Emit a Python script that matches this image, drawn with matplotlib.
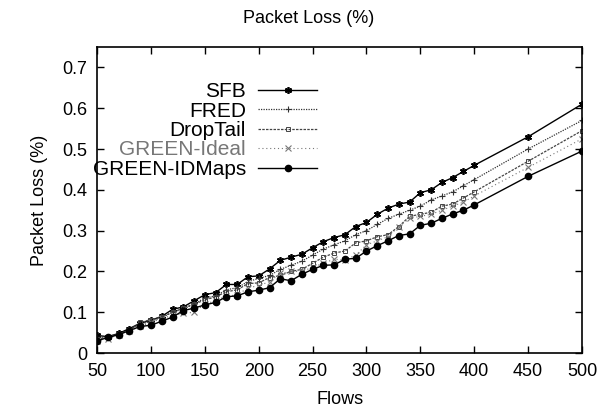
import matplotlib
matplotlib.use('Agg')
import matplotlib.pyplot as plt

plt.rcParams['font.family'] = ['Liberation Sans', 'DejaVu Sans']

flows = [50, 60, 70, 80, 90, 100, 110, 120, 130, 140, 150, 160, 170, 180, 190,
         200, 210, 220, 230, 240, 250, 260, 270, 280, 290, 300, 310, 320, 330,
         340, 350, 360, 370, 380, 390, 400, 450, 500]

sfb = [0.043, 0.040, 0.048, 0.060, 0.073, 0.080, 0.090, 0.107, 0.113, 0.128,
       0.143, 0.148, 0.168, 0.168, 0.187, 0.189, 0.206, 0.227, 0.235, 0.242,
       0.258, 0.273, 0.283, 0.290, 0.310, 0.320, 0.340, 0.355, 0.365, 0.370,
       0.393, 0.400, 0.418, 0.430, 0.445, 0.460, 0.530, 0.610]
fred = [0.038, 0.040, 0.047, 0.057, 0.070, 0.078, 0.087, 0.100, 0.108, 0.120,
        0.135, 0.140, 0.155, 0.160, 0.175, 0.183, 0.190, 0.205, 0.215, 0.225,
        0.240, 0.255, 0.265, 0.275, 0.290, 0.300, 0.315, 0.330, 0.340, 0.350,
        0.360, 0.375, 0.385, 0.395, 0.410, 0.425, 0.500, 0.570]
droptail = [0.035, 0.038, 0.046, 0.056, 0.075, 0.082, 0.088, 0.100, 0.110, 0.120,
            0.130, 0.138, 0.150, 0.155, 0.170, 0.172, 0.185, 0.190, 0.200, 0.205,
            0.220, 0.235, 0.245, 0.250, 0.270, 0.275, 0.285, 0.290, 0.310, 0.335,
            0.340, 0.345, 0.360, 0.365, 0.380, 0.395, 0.470, 0.545]
green_ideal = [0.030, 0.035, 0.045, 0.055, 0.065, 0.075, 0.085, 0.092, 0.097, 0.100,
               0.120, 0.128, 0.140, 0.142, 0.160, 0.165, 0.175, 0.195, 0.200, 0.200,
               0.210, 0.220, 0.230, 0.228, 0.240, 0.265, 0.275, 0.285, 0.310, 0.330,
               0.335, 0.340, 0.350, 0.360, 0.370, 0.385, 0.455, 0.525]
green_idmaps = [0.030, 0.038, 0.045, 0.055, 0.065, 0.068, 0.078, 0.088, 0.104, 0.110,
                0.118, 0.124, 0.138, 0.140, 0.150, 0.154, 0.160, 0.182, 0.177, 0.193,
                0.205, 0.215, 0.216, 0.230, 0.232, 0.250, 0.263, 0.275, 0.288, 0.292,
                0.313, 0.318, 0.330, 0.341, 0.350, 0.363, 0.433, 0.495]

xticks = [50, 100, 150, 200, 250, 300, 350, 400, 450, 500]
yticks = [0, 0.1, 0.2, 0.3, 0.4, 0.5, 0.6, 0.7]

fig = plt.figure(figsize=(6.11, 4.18), dpi=100)
ax = fig.add_axes([0.159, 0.1555, 0.7935, 0.732])

ax.plot(flows, sfb, color='black', lw=1.0, marker=(6, 2, 0), ms=5, mew=1.2, label='SFB')
ax.plot(flows, fred, color='#333333', lw=0.9, ls=(0, (1, 1)), marker='+', ms=5, mew=0.8, label='FRED')
ax.plot(flows, droptail, color='#444444', lw=0.9, ls=(0, (2, 1)), marker='s', ms=3.5,
        mfc='none', mew=0.7, label='DropTail')
ax.plot(flows, green_ideal, color='#777777', lw=0.8, ls=(0, (1, 2.5)), marker='x', ms=4,
        mew=0.8, label='GREEN-Ideal')
ax.plot(flows, green_idmaps, color='black', lw=1.0, marker='o', ms=4.5, label='GREEN-IDMaps')

ax.set_xlim(50, 500)
ax.set_ylim(0, 0.75)
ax.set_xticks(xticks)
ax.set_yticks(yticks)
ax.set_yticklabels(['0', '0.1', '0.2', '0.3', '0.4', '0.5', '0.6', '0.7'])
ax.tick_params(direction='in', top=True, right=True, length=5, width=1,
               labelsize=13, pad=7)
for s in ax.spines.values():
    s.set_linewidth(1.2)

ax.set_xlabel('Flows', fontsize=13, labelpad=8)
ax.set_ylabel('Packet Loss (%)', fontsize=13, labelpad=10)
fig.text(0.505, 0.955, 'Packet Loss (%)', ha='center', va='center', fontsize=13)

leg = ax.legend(loc='upper right', bbox_to_anchor=(0.454, 0.885), frameon=False,
                markerfirst=False, fontsize=15, handlelength=2.85, handletextpad=0.58,
                labelspacing=0.02, borderaxespad=0, borderpad=0)
for t in leg.get_texts():
    t.set_ha('right')
leg.get_texts()[3].set_color('#777777')

fig.savefig('out.png', dpi=100)
